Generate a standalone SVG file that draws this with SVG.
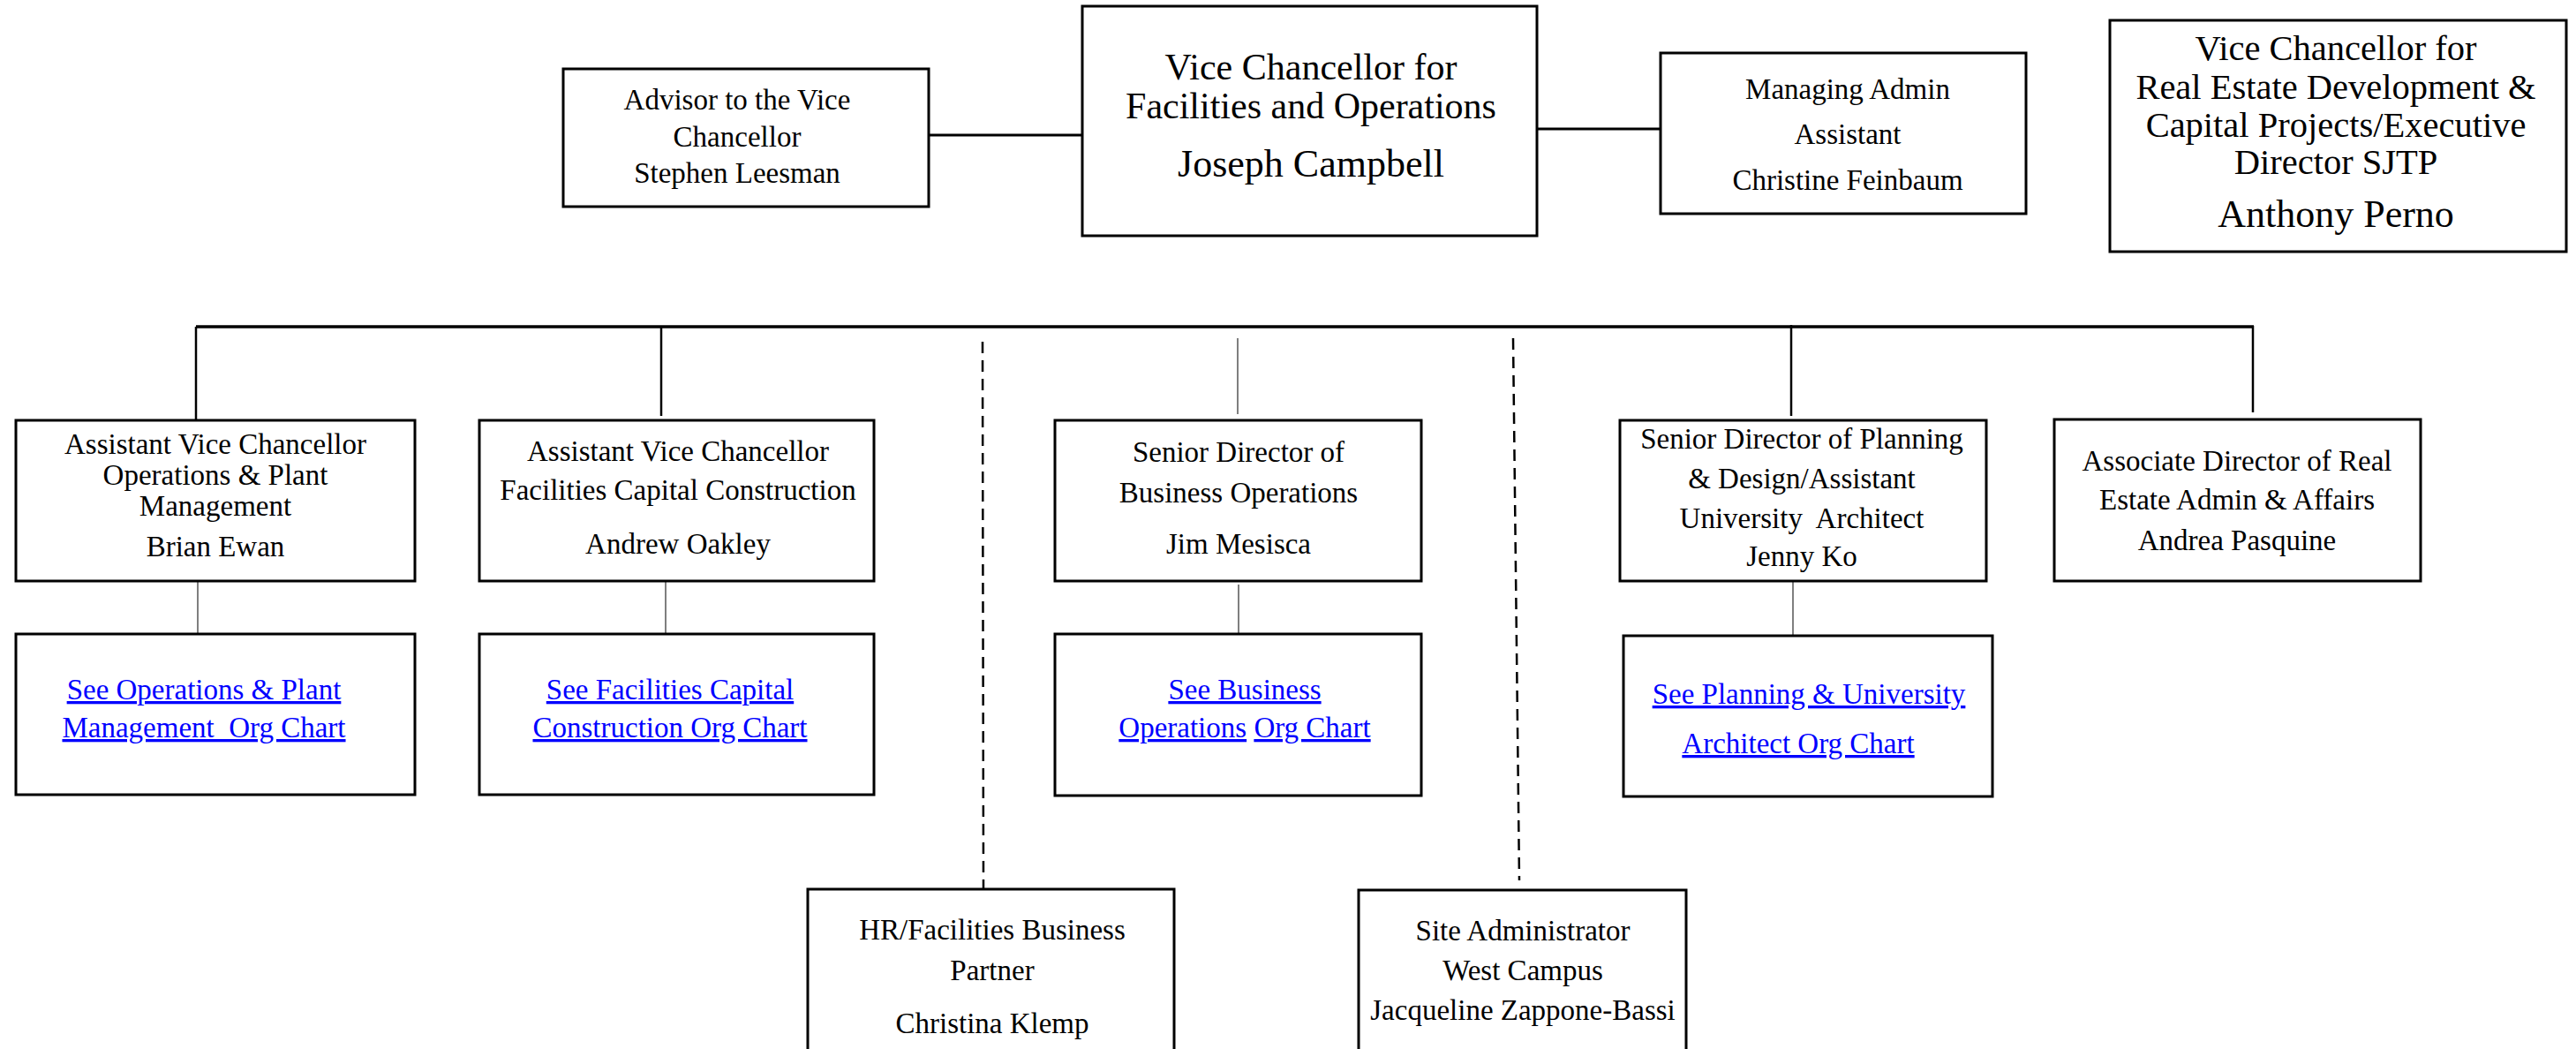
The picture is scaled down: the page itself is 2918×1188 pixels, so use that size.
<svg xmlns="http://www.w3.org/2000/svg" width="2918" height="1188" viewBox="0 0 2918 1188">
<style>
.box{fill:#fff;stroke:#000;stroke-width:3}
.t{font-family:"Liberation Serif","Times New Roman",serif;font-size:33px;fill:#000;text-anchor:middle}
.tm{font-family:"Liberation Serif","Times New Roman",serif;font-size:42px;fill:#000;text-anchor:middle}
.tn{font-family:"Liberation Serif","Times New Roman",serif;font-size:44px;fill:#000;text-anchor:middle}
.tr{font-family:"Liberation Serif","Times New Roman",serif;font-size:40.5px;fill:#000;text-anchor:middle}
.lk{font-family:"Liberation Serif","Times New Roman",serif;font-size:33px;fill:#0000ff;text-anchor:middle}
.u{text-decoration:underline}
.c{stroke:#000;stroke-width:3;fill:none}
.cv{stroke:#000;stroke-width:2.5;fill:none}
.thin{stroke:#555;stroke-width:1.5;fill:none}
.dash{stroke:#000;stroke-width:2.5;stroke-dasharray:13 8;fill:none}
</style>
<rect width="2918" height="1188" fill="#fff"/>
<g id="connectors">
<line class="c" x1="1052" y1="153" x2="1226" y2="153"/>
<line class="c" x1="1741" y1="146" x2="1881" y2="146"/>
<line class="c" x1="222" y1="370" x2="2553" y2="370" style="stroke-width:3.5"/>
<line class="cv" x1="222" y1="370" x2="222" y2="476"/>
<line class="cv" x1="749" y1="370" x2="749" y2="471"/>
<line class="thin" x1="1402" y1="383" x2="1402" y2="469"/>
<line class="dash" x1="1113" y1="387" x2="1114" y2="1008"/>
<line class="dash" x1="1714" y1="383" x2="1721" y2="997"/>
<line class="cv" x1="2029" y1="368" x2="2029" y2="471"/>
<line class="cv" x1="2552" y1="369" x2="2552" y2="467"/>
<line class="thin" x1="224" y1="658" x2="224" y2="718"/>
<line class="thin" x1="754" y1="658" x2="754" y2="718"/>
<line class="thin" x1="1403" y1="662" x2="1403" y2="718"/>
<line class="thin" x1="2031" y1="659" x2="2031" y2="720"/>
</g>
<g id="advisor">
<rect class="box" x="638" y="78" width="414" height="156"/>
<text class="t" x="835" y="124">Advisor to the Vice</text>
<text class="t" x="835" y="166">Chancellor</text>
<text class="t" x="835" y="207">Stephen Leesman</text>
</g>
<g id="vc-facilities">
<rect class="box" x="1226" y="7" width="515" height="260"/>
<text class="tm" x="1485" y="90">Vice Chancellor for</text>
<text class="tm" x="1485" y="134">Facilities and Operations</text>
<text class="tn" x="1485" y="200">Joseph Campbell</text>
</g>
<g id="managing-admin">
<rect class="box" x="1881" y="60" width="414" height="182"/>
<text class="t" x="2093" y="112">Managing Admin</text>
<text class="t" x="2093" y="163">Assistant</text>
<text class="t" x="2093" y="215">Christine Feinbaum</text>
</g>
<g id="vc-real-estate">
<rect class="box" x="2390" y="23" width="517" height="262"/>
<text class="tr" x="2646" y="68">Vice Chancellor for</text>
<text class="tr" x="2646" y="112">Real Estate Development &amp;</text>
<text class="tr" x="2646" y="155">Capital Projects/Executive</text>
<text class="tr" x="2646" y="197">Director SJTP</text>
<text class="tn" x="2646" y="257">Anthony Perno</text>
</g>
<g id="avc-operations">
<rect class="box" x="18" y="476" width="452" height="182"/>
<text class="t" x="244" y="514">Assistant Vice Chancellor</text>
<text class="t" x="244" y="549">Operations &amp; Plant</text>
<text class="t" x="244" y="584">Management</text>
<text class="t" x="244" y="630">Brian Ewan</text>
</g>
<g id="avc-construction">
<rect class="box" x="543" y="476" width="447" height="182"/>
<text class="t" x="768" y="522">Assistant Vice Chancellor</text>
<text class="t" x="768" y="566">Facilities Capital Construction</text>
<text class="t" x="768" y="627">Andrew Oakley</text>
</g>
<g id="sd-business">
<rect class="box" x="1195" y="476" width="415" height="182"/>
<text class="t" x="1403" y="523">Senior Director of</text>
<text class="t" x="1403" y="569">Business Operations</text>
<text class="t" x="1403" y="627">Jim Mesisca</text>
</g>
<g id="sd-planning">
<rect class="box" x="1835" y="476" width="415" height="182"/>
<text class="t" x="2041" y="508">Senior Director of Planning</text>
<text class="t" x="2041" y="553">&amp; Design/Assistant</text>
<text class="t" x="2041" y="598" xml:space="preserve">University  Architect</text>
<text class="t" x="2041" y="641">Jenny Ko</text>
</g>
<g id="ad-real-estate">
<rect class="box" x="2327" y="475" width="415" height="183"/>
<text class="t" x="2534" y="533">Associate Director of Real</text>
<text class="t" x="2534" y="577">Estate Admin &amp; Affairs</text>
<text class="t" x="2534" y="623">Andrea Pasquine</text>
</g>
<g id="link-operations">
<rect class="box" x="18" y="718" width="452" height="182"/>
<text class="lk u" x="231" y="792">See Operations &amp; Plant</text>
<text class="lk u" x="231" y="835" xml:space="preserve">Management  Org Chart</text>
</g>
<g id="link-construction">
<rect class="box" x="543" y="718" width="447" height="182"/>
<text class="lk u" x="759" y="792">See Facilities Capital</text>
<text class="lk u" x="759" y="835">Construction Org Chart</text>
</g>
<g id="link-business">
<rect class="box" x="1195" y="718" width="415" height="183"/>
<text class="lk u" x="1410" y="792">See Business</text>
<text class="lk" x="1410" y="835"><tspan class="u">Operations</tspan> <tspan class="u">Org Chart</tspan></text>
</g>
<g id="link-planning">
<rect class="box" x="1839" y="720" width="418" height="182"/>
<text class="lk u" x="2049" y="797">See Planning &amp; University</text>
<text class="lk u" x="2037" y="853">Architect Org Chart</text>
</g>
<g id="hr-partner">
<rect class="box" x="915" y="1007" width="415" height="200"/>
<text class="t" x="1124" y="1064">HR/Facilities Business</text>
<text class="t" x="1124" y="1110">Partner</text>
<text class="t" x="1124" y="1170">Christina Klemp</text>
</g>
<g id="site-admin">
<rect class="box" x="1539" y="1008" width="371" height="200"/>
<text class="t" x="1725" y="1065">Site Administrator</text>
<text class="t" x="1725" y="1110">West Campus</text>
<text class="t" x="1725" y="1155">Jacqueline Zappone-Bassi</text>
</g>
</svg>
